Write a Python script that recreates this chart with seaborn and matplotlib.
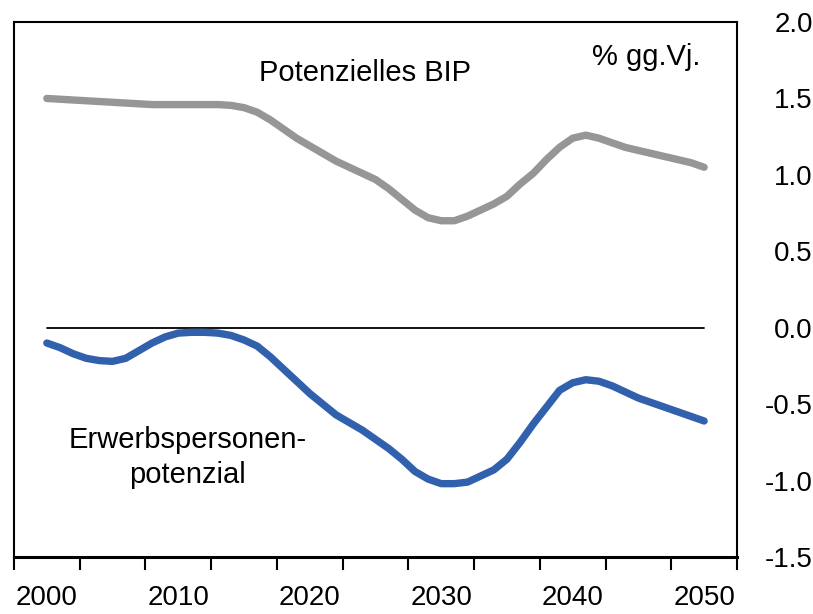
import matplotlib
matplotlib.use("Agg")
import matplotlib.pyplot as plt
import seaborn as sns
import numpy as np
import pandas as pd

# annual values, % change on previous year
years = list(range(2000, 2051))
potenzielles_bip = [
    1.50, 1.495, 1.49, 1.485, 1.48, 1.475, 1.47, 1.465, 1.46, 1.46,
    1.46, 1.46, 1.46, 1.46, 1.455, 1.44, 1.41, 1.36, 1.30, 1.24,
    1.19, 1.14, 1.09, 1.05, 1.01, 0.97, 0.91, 0.84, 0.77, 0.72,
    0.70, 0.70, 0.73, 0.77, 0.81, 0.86, 0.94, 1.01, 1.10, 1.18,
    1.24, 1.26, 1.24, 1.21, 1.18, 1.16, 1.14, 1.12, 1.10, 1.08,
    1.05,
]
erwerbspersonen = [
    -0.10, -0.13, -0.17, -0.20, -0.215, -0.22, -0.20, -0.15, -0.10, -0.06,
    -0.035, -0.03, -0.03, -0.035, -0.05, -0.08, -0.12, -0.19, -0.27, -0.35,
    -0.43, -0.50, -0.57, -0.62, -0.67, -0.73, -0.79, -0.86, -0.94, -0.99,
    -1.02, -1.02, -1.01, -0.97, -0.93, -0.86, -0.75, -0.63, -0.52, -0.41,
    -0.36, -0.34, -0.35, -0.38, -0.42, -0.46, -0.49, -0.52, -0.55, -0.58,
    -0.61,
]
nulllinie = [0.0] * len(years)

x_labels = [2000, 2010, 2020, 2030, 2040, 2050]
y_ticks = [-1.5, -1.0, -0.5, 0.0, 0.5, 1.0, 1.5, 2.0]

df = pd.DataFrame({"Jahr": years, "bip": potenzielles_bip,
                   "erw": erwerbspersonen, "null": nulllinie})

sns.set_style("white")
plt.rcParams["font.family"] = ["Liberation Sans", "DejaVu Sans"]
plt.rcParams["text.color"] = "black"
plt.rcParams["xtick.color"] = "black"
plt.rcParams["ytick.color"] = "black"

fig = plt.figure(figsize=(8.13, 6.14), dpi=100)
ax = fig.add_axes([0.0172, 0.0928, 0.8893, 0.8713])

sns.lineplot(data=df, x="Jahr", y="null", ax=ax, color="black", lw=1.3)
sns.lineplot(data=df, x="Jahr", y="bip", ax=ax, color="#969696", lw=5.3,
             solid_capstyle="round")
sns.lineplot(data=df, x="Jahr", y="erw", ax=ax, color="#3160AD", lw=5.3,
             solid_capstyle="round")

ax.set_xlim(1997.5, 2052.5)
ax.set_ylim(-1.5, 2.0)
ax.set_xlabel("")
ax.set_ylabel("")

# category-style axis: ticks on bin edges, labels in the middle
ax.set_xticks(np.arange(1997.5, 2053, 5))
ax.set_xticklabels([])
ax.set_xticks(x_labels, minor=True)
ax.set_xticklabels([str(v) for v in x_labels], minor=True, fontsize=20)
ax.tick_params(axis="x", which="major", bottom=True, direction="out",
               length=9, width=1.5, color="black")
ax.tick_params(axis="x", which="minor", bottom=True, length=0, pad=20)

ax.set_yticks(y_ticks)
ax.set_yticklabels([f"{v:.1f}" for v in y_ticks], fontsize=20)
ax.tick_params(axis="y", left=False, right=False, labelleft=False,
               labelright=True, pad=51)
for lab in ax.get_yticklabels():
    lab.set_horizontalalignment("right")

for side in ["left", "right", "top"]:
    ax.spines[side].set_color("black")
    ax.spines[side].set_linewidth(1.5)
ax.spines["bottom"].set_color("black")
ax.spines["bottom"].set_linewidth(2.2)

ax.text(2024.2, 1.666, "Potenzielles BIP", fontsize=21,
        ha="center", va="center")
ax.text(0.949, 0.935, "% gg.Vj.", fontsize=21, ha="right", va="center",
        transform=ax.transAxes)
ax.text(2010.7, -0.85, "Erwerbspersonen-\npotenzial", fontsize=21,
        ha="center", va="center", linespacing=1.3)

fig.savefig("out.png", dpi=100)
